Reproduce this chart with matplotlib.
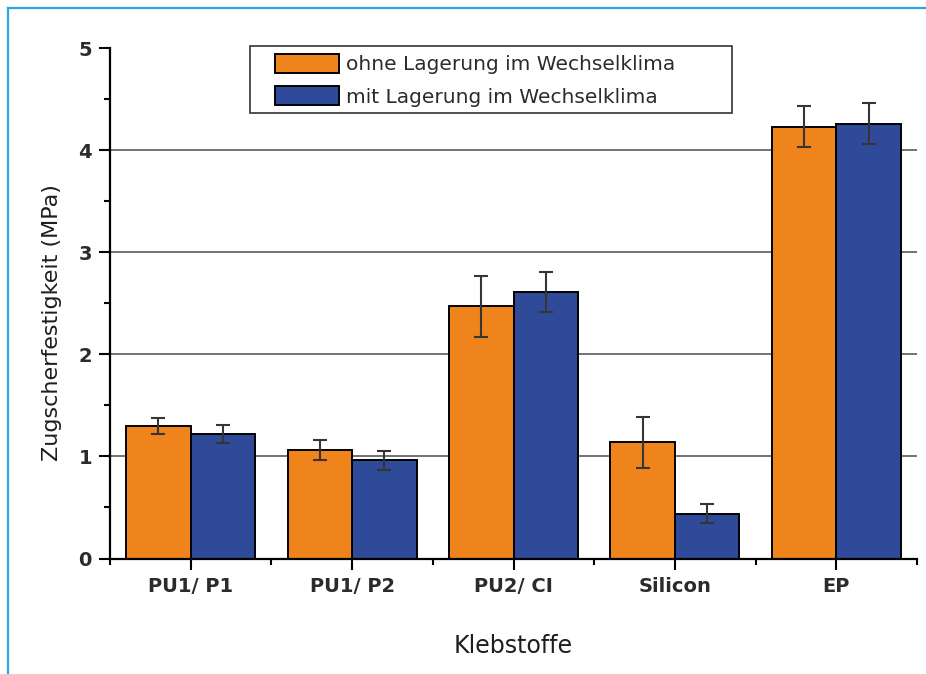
import matplotlib
matplotlib.use('Agg')
import matplotlib.pyplot as plt
from matplotlib.patches import Rectangle
from matplotlib.lines import Line2D
from matplotlib.ticker import MultipleLocator, FixedLocator
import numpy as np

plt.rc('font', family='DejaVu Sans')

# Zugscherfestigkeit der Klebstoffe (MPa)
klebstoffe = ['PU1/ P1', 'PU1/ P2', 'PU2/ CI', 'Silicon', 'EP']
ohne = [1.30, 1.06, 2.47, 1.14, 4.23]
ohne_err = [0.08, 0.10, 0.30, 0.25, 0.20]
mit = [1.22, 0.96, 2.61, 0.44, 4.26]
mit_err = [0.09, 0.09, 0.20, 0.09, 0.20]
labels = ['ohne Lagerung im Wechselklima', 'mit Lagerung im Wechselklima']

ORANGE = '#ee841b'
BLUE = '#2f4a98'
TXT = '#2b2b2b'

fig = plt.figure(figsize=(9.26, 6.74), dpi=100)
ax = fig.add_axes([110 / 926, 1 - 558.5 / 674, 807 / 926, 510.5 / 674])

x = np.arange(len(klebstoffe))
w = 0.4
err_kw = dict(ecolor='#353535', elinewidth=1.5, capsize=4.7, capthick=1.5)
b1 = ax.bar(x - w / 2, ohne, w, yerr=ohne_err, color=ORANGE, edgecolor='black',
            linewidth=1.4, error_kw=err_kw, zorder=3, label=labels[0])
b2 = ax.bar(x + w / 2, mit, w, yerr=mit_err, color=BLUE, edgecolor='black',
            linewidth=1.4, error_kw=err_kw, zorder=3, label=labels[1])

ax.set_xlim(-0.5, len(klebstoffe) - 0.5)
ax.set_ylim(0, 5)

# horizontal grid at the integer values only
for yv in range(1, 5):
    ax.axhline(yv, color='#5a5a5a', lw=1.2, zorder=1)

for s in ['top', 'right']:
    ax.spines[s].set_visible(False)
for s in ['left', 'bottom']:
    ax.spines[s].set_linewidth(1.6)
    ax.spines[s].set_color('black')
    ax.spines[s].set_zorder(4)

ax.set_xticks(x)
ax.set_xticklabels(klebstoffe)
ax.xaxis.set_minor_locator(FixedLocator(np.arange(-0.5, len(klebstoffe), 1.0)))
ax.yaxis.set_major_locator(MultipleLocator(1))
ax.yaxis.set_minor_locator(MultipleLocator(0.5))
ax.tick_params(axis='both', which='major', direction='out', length=8, width=1.5,
               pad=5, labelsize=14, labelcolor=TXT)
ax.tick_params(axis='both', which='minor', direction='out', length=4, width=1.5)
for t in ax.get_xticklabels() + ax.get_yticklabels():
    t.set_fontweight('bold')

ax.set_ylabel('Zugscherfestigkeit (MPa)', fontsize=16, color='#1e1e1e')
ax.yaxis.set_label_coords(-0.06, 0.463)
ax.set_xlabel('Klebstoffe', fontsize=17, color='#1e1e1e', va='top')
ax.xaxis.set_label_coords(0.5, -0.148)

leg = fig.legend(handles=[b1, b2], labels=labels, loc='upper left',
                 bbox_to_anchor=(275 / 926, 1 - 54 / 674), frameon=False,
                 fontsize=14.5, handlelength=3.2, handleheight=1.05,
                 handletextpad=0.35, labelspacing=0.6, borderpad=0,
                 borderaxespad=0)
for t in leg.get_texts():
    t.set_color(TXT)
fig.add_artist(Rectangle((250 / 926, 1 - 113 / 674), 482 / 926, 67 / 674,
                         transform=fig.transFigure, fill=False,
                         edgecolor='#333333', lw=1.2))

# page frame lines
fig.add_artist(Line2D([8 / 926, 8 / 926], [0, 1 - 8 / 674], color='#29a8e0',
                      lw=1.6, transform=fig.transFigure))
fig.add_artist(Line2D([8 / 926, 1], [1 - 8 / 674, 1 - 8 / 674], color='#29a8e0',
                      lw=1.6, transform=fig.transFigure))

fig.savefig('out.png', dpi=100)
